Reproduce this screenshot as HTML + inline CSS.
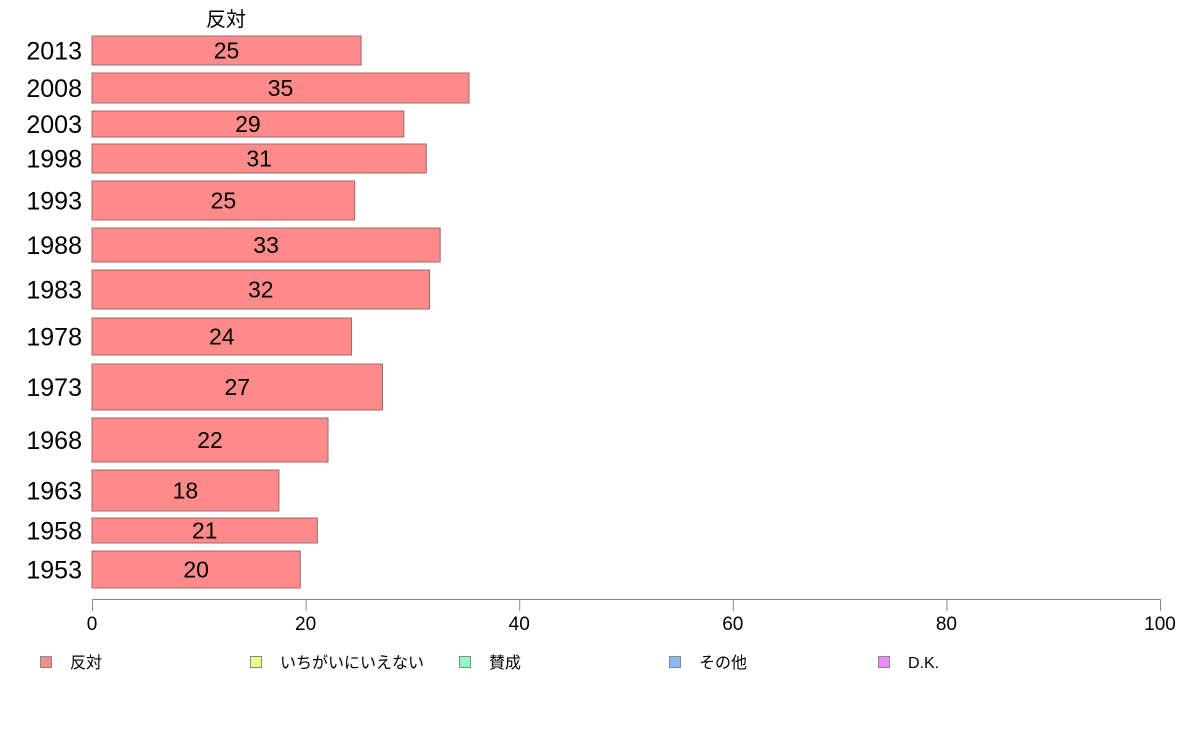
<!DOCTYPE html>
<html><head><meta charset="utf-8"><style>
body{margin:0;background:#fff;}
svg{display:block;font-family:"Liberation Sans","Noto Sans CJK JP",sans-serif;}
</style></head><body>
<svg id="c" width="1188" height="736"></svg>
<script>
const categories=["2013","2008","2003","1998","1993","1988","1983","1978","1973","1968","1963","1958","1953"];
const values=[25.2,35.3,29.2,31.3,24.6,32.6,31.6,24.3,27.2,22.1,17.5,21.1,19.5];
const valueLabels=["25","35","29","31","25","33","32","24","27","22","18","21","20"];
const tickValues=[0,20,40,60,80,100];
const legendLabels=["反対","いちがいにいえない","賛成","その他","D.K."];
const legendColors=["#ff8a8a","#eeff8a","#8affc0","#8ab8ff","#ee8aff"];
// band layout (pixel tops/bottoms)
const bandTop=[36,73,111,144,181,228,270,318,364,418,470,518,551];
const bandBot=[65,103,137,173,220,262,309,355,410,462,511,543,588];
const NS="http://www.w3.org/2000/svg";
const svg=document.getElementById('c');
const x0=92,x1=1160;
const xs=v=>x0+(v/100)*(x1-x0);
function mk(t,a,txt){const e=document.createElementNS(NS,t);for(const k in a)e.setAttribute(k,a[k]);if(txt!=null)e.textContent=txt;svg.appendChild(e);return e;}
let t=mk('text',{x:226,y:26,'font-size':20,'text-anchor':'middle',fill:'#000'},'反対');


categories.forEach((c,i)=>{
  const y=bandTop[i],h=bandBot[i]-bandTop[i];
  const r=mk('rect',{x:x0,y:y,width:xs(values[i])-x0,height:h,fill:'#ff8a8a',stroke:'#a06868','stroke-width':1});
  
  
  const l=mk('text',{x:82,y:y+h/2+9,'font-size':25,'text-anchor':'end',fill:'#000'},c);
  
  
  const v=mk('text',{x:(x0+xs(values[i]))/2,y:y+h/2+8,'font-size':23,'text-anchor':'middle',fill:'#000'},valueLabels[i]);
  
  
});
const ax=mk('line',{x1:x0,y1:599.5,x2:x1,y2:599.5,stroke:'#888','stroke-width':1});


tickValues.forEach(v=>{
  const tk=mk('line',{x1:xs(v)+0.5,y1:599,x2:xs(v)+0.5,y2:611,stroke:'#888','stroke-width':1});
  
  
  const tl=mk('text',{x:xs(v),y:630,'font-size':19,'text-anchor':'middle',fill:'#000'},String(v));
  
  
});
const legX=[40,250,459,669,878];
legendLabels.forEach((s,i)=>{
  const r=mk('rect',{x:legX[i]+0.5,y:656.5,width:11,height:11,fill:legendColors[i],stroke:'#888','stroke-width':1});
  
  
  const tx=mk('text',{x:legX[i]+30,y:668,'font-size':16,fill:'#000'},s);
  
  
});
</script>
</body></html>
